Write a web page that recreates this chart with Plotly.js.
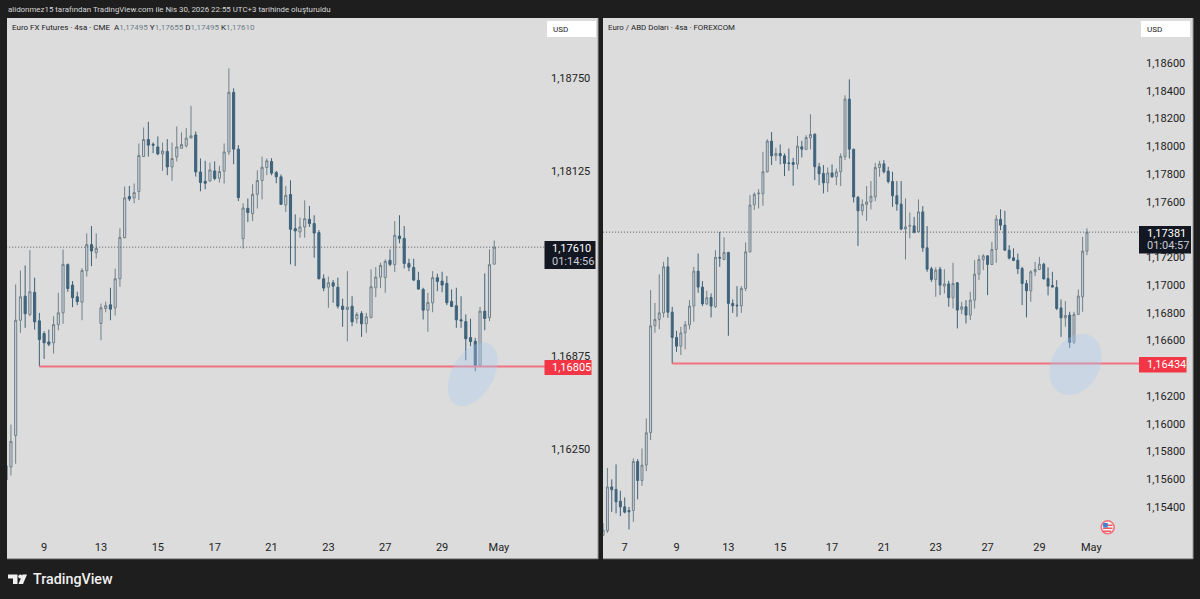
<!DOCTYPE html>
<html><head><meta charset="utf-8">
<script src="https://cdn.plot.ly/plotly-3.0.1.min.js"></script>
<style>html,body{margin:0;padding:0;background:#1e1e1e;overflow:hidden}#c{width:1200px;height:599px}</style>
</head><body><div id="c"></div>
<script>
// EUR futures, 4h candles
const futOpen=[1.16041,1.16127,1.16340,1.17117,1.17279,1.17156,1.17306,1.17113,1.17027,1.16971,
1.16965,1.17088,1.17167,1.17492,1.17354,1.17275,1.17239,1.17451,1.17627,1.17573,
1.17095,1.17196,1.17221,1.17201,1.17397,1.17674,1.17951,1.17942,1.17985,1.18221,
1.18336,1.18304,1.18286,1.18239,1.18255,1.18151,1.18219,1.18277,1.18293,1.18347,
1.18367,1.18117,1.18054,1.18057,1.18124,1.18075,1.18122,1.18252,1.18654,1.18271,
1.17667,1.17872,1.17836,1.17967,1.18059,1.18147,1.18188,1.18113,1.18084,1.17894,
1.17965,1.17735,1.17712,1.17746,1.17798,1.17769,1.17708,1.17397,1.17340,1.17370,
1.17340,1.17212,1.17190,1.17212,1.17127,1.17163,1.17093,1.17136,1.17336,1.17408,
1.17404,1.17521,1.17492,1.17685,1.17669,1.17500,1.17473,1.17386,1.17325,1.17185,
1.17235,1.17404,1.17381,1.17365,1.17244,1.17215,1.17120,1.17108,1.17000,1.16975,
1.16813,1.17178,1.17134,1.17495];
const futHigh=[1.16176,1.16413,1.17359,1.17453,1.17487,1.17590,1.17404,1.17167,1.17043,1.17054,
1.17144,1.17302,1.17595,1.17500,1.17381,1.17309,1.17467,1.17703,1.17752,1.17703,
1.17230,1.17242,1.17336,1.17465,1.17737,1.18019,1.18023,1.18039,1.18309,1.18417,
1.18455,1.18316,1.18357,1.18316,1.18338,1.18316,1.18424,1.18384,1.18413,1.18563,
1.18390,1.18208,1.18192,1.18181,1.18188,1.18158,1.18309,1.18816,1.18681,1.18298,
1.17906,1.17938,1.18034,1.18129,1.18221,1.18208,1.18210,1.18124,1.18100,1.18023,
1.18061,1.17831,1.17809,1.17926,1.17888,1.17825,1.17725,1.17426,1.17411,1.17388,
1.17404,1.17262,1.17448,1.17279,1.17171,1.17178,1.17167,1.17460,1.17475,1.17505,
1.17527,1.17595,1.17786,1.17825,1.17752,1.17532,1.17532,1.17444,1.17336,1.17302,
1.17448,1.17431,1.17444,1.17415,1.17325,1.17336,1.17279,1.17156,1.17127,1.16998,
1.17208,1.17433,1.17595,1.17655];
const futLow=[1.15994,1.16070,1.16149,1.17032,1.17066,1.17144,1.17054,1.16805,1.16856,1.16942,
1.16892,1.17050,1.17093,1.17309,1.17205,1.17219,1.17117,1.17411,1.17482,1.17534,
1.16982,1.17171,1.17117,1.17149,1.17343,1.17669,1.17921,1.17906,1.17928,1.18219,
1.18221,1.18244,1.18230,1.18124,1.18095,1.18057,1.18188,1.18275,1.18282,1.18343,
1.18086,1.17987,1.18000,1.18050,1.18061,1.18046,1.18039,1.18232,1.18169,1.17921,
1.17600,1.17779,1.17786,1.17870,1.17932,1.18095,1.18095,1.18041,1.17894,1.17847,
1.17494,1.17482,1.17674,1.17674,1.17746,1.17539,1.17392,1.17313,1.17201,1.17235,
1.17196,1.17073,1.16975,1.17077,1.17095,1.17005,1.17032,1.17129,1.17273,1.17334,
1.17302,1.17482,1.17442,1.17636,1.17467,1.17448,1.17381,1.17325,1.17122,1.17039,
1.17171,1.17313,1.17306,1.17219,1.17208,1.17066,1.17066,1.16847,1.16942,1.16773,
1.16811,1.17050,1.17111,1.17495];
const futClose=[1.16135,1.16300,1.17117,1.17275,1.17161,1.17309,1.17106,1.16987,1.16965,1.16955,
1.17088,1.17167,1.17494,1.17331,1.17269,1.17242,1.17453,1.17627,1.17584,1.17602,
1.17201,1.17215,1.17192,1.17397,1.17676,1.17942,1.17935,1.17978,1.18228,1.18336,
1.18298,1.18298,1.18239,1.18259,1.18151,1.18208,1.18286,1.18302,1.18345,1.18361,
1.18117,1.18046,1.18041,1.18131,1.18073,1.18120,1.18252,1.18654,1.18271,1.17944,
1.17874,1.17843,1.17967,1.18059,1.18149,1.18192,1.18109,1.18084,1.17899,1.17960,
1.17730,1.17719,1.17746,1.17802,1.17769,1.17705,1.17397,1.17334,1.17370,1.17347,
1.17212,1.17190,1.17205,1.17106,1.17156,1.17093,1.17140,1.17343,1.17408,1.17487,
1.17514,1.17494,1.17690,1.17667,1.17500,1.17475,1.17388,1.17327,1.17185,1.17237,
1.17404,1.17379,1.17354,1.17235,1.17210,1.17120,1.17113,1.16992,1.16973,1.16811,
1.17178,1.17129,1.17492,1.17610];
// EUR/USD spot, 4h candles
const fxOpen=[1.15197,1.15228,1.15545,1.15527,1.15442,1.15401,1.15375,1.15375,1.15728,1.15591,
1.15702,1.15937,1.16706,1.16752,1.16799,1.17131,1.16804,1.16622,1.16559,1.16655,
1.16713,1.16848,1.17100,1.16985,1.16864,1.16910,1.16843,1.17199,1.17184,1.17235,
1.16867,1.16855,1.16850,1.16975,1.17239,1.17578,1.17657,1.17657,1.17816,1.18037,
1.17931,1.17948,1.17931,1.17880,1.17883,1.17871,1.17996,1.17977,1.18061,1.18087,
1.17852,1.17804,1.17736,1.17808,1.17780,1.17816,1.17924,1.18340,1.17979,1.17633,
1.17535,1.17581,1.17599,1.17635,1.17847,1.17873,1.17821,1.17746,1.17643,1.17583,
1.17403,1.17424,1.17426,1.17383,1.17527,1.17268,1.17117,1.17040,1.17114,1.16992,
1.17008,1.16908,1.17016,1.16824,1.16843,1.16783,1.16891,1.17078,1.17184,1.17210,
1.17148,1.17256,1.17473,1.17431,1.17251,1.17196,1.17179,1.17119,1.17011,1.16958,
1.17095,1.17112,1.17150,1.17047,1.16997,1.16982,1.16835,1.16763,1.16783,1.16588,
1.16788,1.16915,1.17244];
const fxHigh=[1.15284,1.15682,1.15599,1.15707,1.15517,1.15469,1.15401,1.15750,1.15745,1.15822,
1.16038,1.16963,1.16871,1.17076,1.17167,1.17203,1.16843,1.16670,1.16699,1.16740,
1.16891,1.17131,1.17227,1.17028,1.16958,1.16939,1.17251,1.17383,1.17343,1.17239,
1.16896,1.16992,1.16992,1.17307,1.17648,1.17667,1.17691,1.17960,1.18051,1.18102,
1.17989,1.18013,1.17948,1.17984,1.17916,1.18075,1.18039,1.18080,1.18231,1.18092,
1.17880,1.17864,1.17847,1.17869,1.17840,1.17948,1.18368,1.18482,1.17979,1.17640,
1.17617,1.17713,1.17749,1.17880,1.17895,1.17900,1.17852,1.17816,1.17749,1.17749,
1.17624,1.17523,1.17491,1.17617,1.17568,1.17424,1.17131,1.17127,1.17131,1.17114,
1.17030,1.17160,1.17021,1.16879,1.16891,1.16951,1.17179,1.17215,1.17222,1.17215,
1.17311,1.17504,1.17545,1.17535,1.17287,1.17264,1.17227,1.17131,1.17035,1.17107,
1.17167,1.17203,1.17160,1.17127,1.17095,1.17035,1.16896,1.16884,1.16807,1.16807,
1.16968,1.17347,1.17408];
const fxLow=[1.15190,1.15214,1.15365,1.15354,1.15334,1.15354,1.15238,1.15293,1.15455,1.15553,
1.15659,1.15882,1.16655,1.16682,1.16766,1.16763,1.16434,1.16518,1.16495,1.16536,
1.16680,1.16735,1.16944,1.16848,1.16855,1.16766,1.16835,1.17131,1.17179,1.16634,
1.16799,1.16771,1.16799,1.16956,1.17235,1.17540,1.17552,1.17571,1.17811,1.17864,
1.17895,1.17869,1.17785,1.17823,1.17715,1.17835,1.17919,1.17972,1.17977,1.17756,
1.17720,1.17660,1.17671,1.17772,1.17720,1.17713,1.17900,1.17912,1.17595,1.17282,
1.17501,1.17462,1.17545,1.17604,1.17780,1.17804,1.17732,1.17563,1.17535,1.17395,
1.17184,1.17336,1.17372,1.17379,1.17239,1.17095,1.17023,1.16915,1.16927,1.16939,
1.16843,1.16831,1.16687,1.16790,1.16723,1.16747,1.16831,1.17035,1.17107,1.16927,
1.17143,1.17160,1.17395,1.17246,1.17184,1.17172,1.17078,1.16855,1.16766,1.16879,
1.17064,1.17107,1.17040,1.16925,1.16982,1.16819,1.16626,1.16699,1.16547,1.16574,
1.16783,1.16807,1.17215];
const fxClose=[1.15233,1.15545,1.15524,1.15437,1.15401,1.15363,1.15365,1.15728,1.15591,1.15702,
1.15935,1.16706,1.16752,1.16799,1.17131,1.16804,1.16622,1.16559,1.16655,1.16713,
1.16848,1.17100,1.16985,1.16864,1.16908,1.16848,1.17199,1.17194,1.17235,1.16867,
1.16850,1.16850,1.16975,1.17239,1.17576,1.17653,1.17662,1.17816,1.18037,1.17931,
1.17948,1.17931,1.17876,1.17876,1.17869,1.18001,1.17979,1.18063,1.18085,1.17852,
1.17801,1.17736,1.17808,1.17780,1.17816,1.17927,1.18340,1.17979,1.17635,1.17535,
1.17581,1.17599,1.17640,1.17847,1.17873,1.17816,1.17746,1.17643,1.17583,1.17403,
1.17419,1.17429,1.17381,1.17527,1.17268,1.17114,1.17040,1.17107,1.16999,1.17008,
1.16908,1.17011,1.16819,1.16843,1.16783,1.16891,1.17078,1.17184,1.17210,1.17148,
1.17256,1.17475,1.17431,1.17251,1.17194,1.17177,1.17117,1.17011,1.16958,1.17095,
1.17112,1.17150,1.17044,1.16992,1.16985,1.16831,1.16763,1.16781,1.16586,1.16788,
1.16920,1.17244,1.17381];

const futDateTickIdx=[8,20,32,44,56,68,80,92,104];
const futDateLabels=['9','13','15','17','21','23','27','29','May'];
const fxDateTickIdx=[5,17,29,41,53,65,77,89,101,113];
const fxDateLabels=['7','9','13','15','17','21','23','27','29','May'];
const futPriceTicks=[1.1875,1.18125,1.16875,1.1625];
const fxPriceTicks=[1.186,1.184,1.182,1.18,1.178,1.176,1.172,1.17,1.168,1.166,1.162,1.16,1.158,1.156,1.154];
const futSupport=1.16805, fxSupport=1.16434;
const futLast=1.17610, fxLast=1.17381;

const W=1200,H=599;
const px=x=>x/W, py=y=>1-y/H;
const idx=a=>a.map((_,i)=>i);
const UP='#708088',UPF='#d0d4e0',DN='#3e6279',DNF='#3e6480';
const FONT='Roboto,"Noto Sans",sans-serif';

function candle(o,h,l,c,xa,ya){return {type:'candlestick',x:idx(o),open:o,high:h,low:l,close:c,xaxis:xa,yaxis:ya,
  increasing:{line:{color:UP,width:1},fillcolor:UPF},decreasing:{line:{color:DN,width:1},fillcolor:DNF},hoverinfo:'skip',showlegend:false};}
function hline(v,a,b,xa,ya,color,width,dash){return {type:'scatter',mode:'lines',x:[a,b],y:[v,v],xaxis:xa,yaxis:ya,
  line:{color,width,dash:dash||'solid'},hoverinfo:'skip',showlegend:false};}

const traces=[
 hline(futLast,0,113.8,'x','y','#55595f',1,'1px,2px'),
 hline(fxLast,0,124.3,'x2','y2','#55595f',1,'1px,2px'),
 candle(futOpen,futHigh,futLow,futClose,'x','y'),
 candle(fxOpen,fxHigh,fxLow,fxClose,'x2','y2'),
 hline(futSupport,7,113.8,'x','y','#f0737f',2),
 hline(fxSupport,16,124.3,'x2','y2','#f0737f',2)
];

function xaxis(dom,range,vals,text){return {domain:[px(dom[0]),px(dom[1])],range,anchor:'free',position:py(539),
  showgrid:false,zeroline:false,showline:false,ticks:'',tickmode:'array',tickvals:vals,ticktext:text,
  tickfont:{family:FONT,size:11,color:'#222'},rangeslider:{visible:false},fixedrange:true};}
function yaxis(top,range,vals,pos){return {domain:[py(559),py(top)],range,anchor:'free',position:px(pos),side:'right',
  showgrid:false,zeroline:false,showline:false,ticks:'',tickmode:'array',tickvals:vals,tickformat:'.5f',
  tickfont:{family:FONT,size:11,color:'#222'},fixedrange:true};}

function rect(x0,y0,x1,y1,fill){return {type:'rect',xref:'paper',yref:'paper',x0:px(x0),x1:px(x1),y0:py(y0),y1:py(y1),fillcolor:fill,line:{width:0},layer:'above'};}
function ellipsePath(cx,cy,a,b,deg){ // tilted ellipse outline, decorative
  const t=deg*Math.PI/180;let d='';
  for(let i=0;i<=60;i++){const u=i/60*2*Math.PI,ma=a*Math.sin(u),mi=b*Math.cos(u);
    const X=cx+ma*Math.sin(t)+mi*Math.cos(t),Y=cy-ma*Math.cos(t)+mi*Math.sin(t);
    d+=(i?'L':'M')+px(X)+','+py(Y);}
  return d+'Z';}
function ellipse(cx,cy,a,b,deg){return {type:'path',xref:'paper',yref:'paper',path:ellipsePath(cx,cy,a,b,deg),fillcolor:'rgba(167,202,240,0.34)',line:{width:0},layer:'above'};}
function poly(pts,fill){return {type:'path',xref:'paper',yref:'paper',layer:'above',fillcolor:fill,line:{width:0},
  path:pts.map((p,i)=>(i?'L':'M')+px(p[0])+','+py(p[1])).join('')+'Z'};}
function circ(cx,cy,r,fill,ln,lw){return {type:'circle',xref:'paper',yref:'paper',layer:'above',x0:px(cx-r),x1:px(cx+r),y0:py(cy-r),y1:py(cy+r),fillcolor:fill,line:{color:ln||fill,width:lw||0}};}

const shapes=[
 ellipse(472.7,374.3,34.7,20.6,30),
 ellipse(1075.5,364.5,32.3,24,29),
 rect(544.5,241,595.5,269,'#131722'),
 rect(544.5,360,591.5,375,'#f23645'),
 rect(1139,226,1191,253.5,'#131722'),
 rect(1139,357,1186.5,372.5,'#f23645'),
 rect(547,21,596,37,'#ffffff'),
 rect(1141,21,1190,37,'#ffffff'),
 rect(7,558.3,598,559.3,'#8c8c8c'),
 rect(603,558.3,1193,559.3,'#8c8c8c'),
 rect(597.5,18,598.5,559,'#9a9a9a'),
 rect(1192.5,18,1193.5,559,'#9a9a9a'),
 // flag marker
 circ(1107.7,527.3,6.5,'#f3f3f3','#f0707a',1.5),
 rect(1103,524.5,1112.5,526,'#ee5a66'),
 rect(1103,527.5,1112.5,529,'#ee5a66'),
 rect(1103,530.5,1111,532,'#ee5a66'),
 rect(1103.2,523,1107.7,527.5,'#3b82d6'),
 // logo
 poly([[8,574.5],[17.5,574.5],[17.5,584],[13,584],[13,578.5],[8,578.5]],'#f0f0f0'),
 circ(20.3,576.5,2,'#f0f0f0'),
 poly([[22.5,574.5],[27,574.5],[23,584],[18.5,584]],'#f0f0f0')
];

function note(x,y,text,size,color,anchor,weight){return {xref:'paper',yref:'paper',x:px(x),y:py(y),text,showarrow:false,xanchor:anchor||'left',yanchor:'middle',
  font:{family:FONT,size,color,weight:weight||400},align:'left',borderpad:0};}
const G='<span style="color:#6d7c8a">',E='</span>';
const annotations=[
 note(7,9,'alidonmez15 tarafından TradingView.com ile Nis 30, 2026 22:55 UTC+3 tarihinde oluşturuldu',7.9,'#d6d6d6'),
 note(11,27,'Euro FX Futures · 4sa · CME  A'+G+'1,17495'+E+' Y'+G+'1,17655'+E+' D'+G+'1,17495'+E+' K'+G+'1,17610'+E,8,'#222'),
 note(607,27,'Euro / ABD Doları · 4sa · FOREXCOM',7.9,'#222'),
 note(552,29,'USD',8,'#222'),
 note(1146,29,'USD',8,'#222'),
 note(551,248,'1,17610',11,'#ffffff'),
 note(551,261,'01:14:56',11,'#c9ccd4'),
 note(551,367.5,'1,16805',11,'#ffffff'),
 note(1146,233,'1,17381',11,'#ffffff'),
 note(1146,245.5,'01:04:57',11,'#c9ccd4'),
 note(1146,364.5,'1,16434',11,'#ffffff'),
 note(32,579,'TradingView',14.3,'#f0f0f0','left',500)
];

const layout={width:W,height:H,margin:{l:0,r:0,t:0,b:0},paper_bgcolor:'#1e1e1e',plot_bgcolor:'#dcdcdc',separators:', ',
 boxgap:0.36,hovermode:false,dragmode:false,showlegend:false,
 xaxis:xaxis([7,598],[0.17,124.9],futDateTickIdx,futDateLabels),
 xaxis2:xaxis([603,1193],[-0.02,136.55],fxDateTickIdx,fxDateLabels),
 yaxis:yaxis(18,[1.155068,1.191554],futPriceTicks,550),
 yaxis2:yaxis(18,[1.150252,1.189243],fxPriceTicks,1145),
 shapes,annotations};
Plotly.newPlot('c',traces,layout,{displayModeBar:false,staticPlot:true});
</script></body></html>
